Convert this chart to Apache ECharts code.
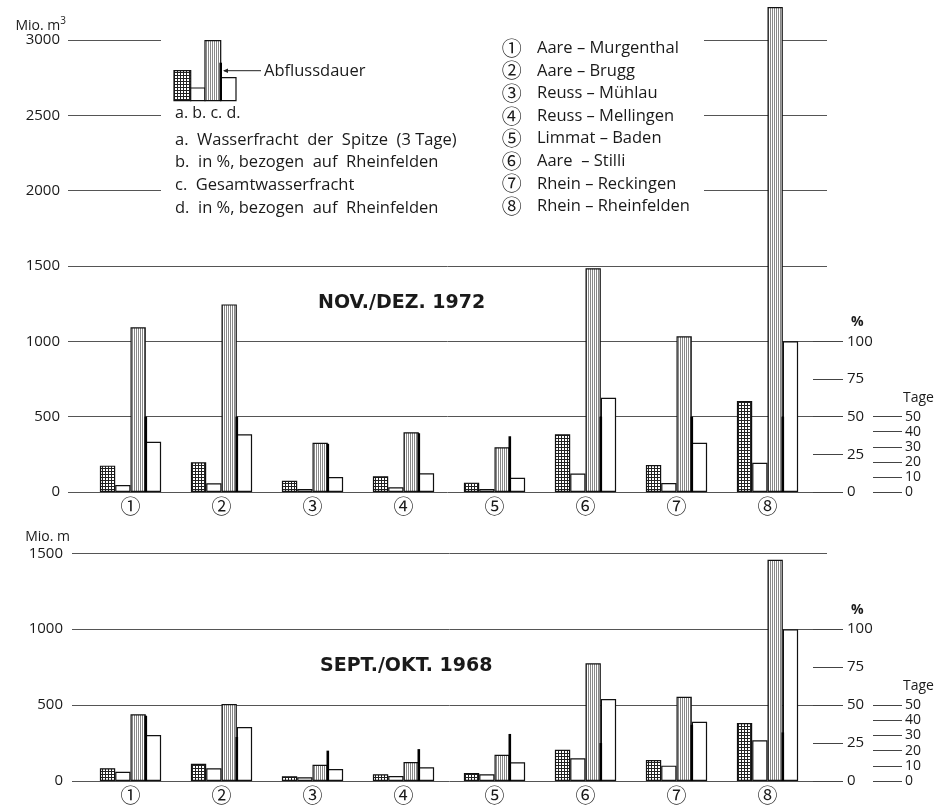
<!DOCTYPE html>
<html><head><meta charset="utf-8">
<script src="https://cdn.jsdelivr.net/npm/echarts@6/dist/echarts.min.js"></script>
<style>html,body{margin:0;padding:0;background:#fff}#c{width:940px;height:809px}</style>
</head><body><div id="c"></div>
<script>
// ---------- data ----------
const categories = ['①','②','③','④','⑤','⑥','⑦','⑧'];
const stations = ['Aare – Murgenthal','Aare – Brugg','Reuss – Mühlau','Reuss – Mellingen','Limmat – Baden','Aare  – Stilli','Rhein – Reckingen','Rhein – Rheinfelden'];
const legendLines = ['a.  Wasserfracht  der  Spitze  (3 Tage)','b.  in %, bezogen  auf  Rheinfelden','c.  Gesamtwasserfracht','d.  in %, bezogen  auf  Rheinfelden'];

// NOV./DEZ. 1972
const peak1972     = [175, 197, 75, 104, 62, 383, 179, 604];      // a: Mio m3
const peakPct1972  = [4.6, 5.8, 2.0, 3.1, 2.0, 12.2, 6.0, 19.4];  // b: %
const total1972    = [1093, 1245, 327, 396, 297, 1485, 1033, 3219]; // c: Mio m3
const totalPct1972 = [33.4, 38.3, 10.0, 12.4, 9.5, 62.6, 32.7, 100]; // d: %
const days1972     = [50, 50, 32, 39, 37, 50, 50, 50];             // Abflussdauer (Tage)

// SEPT./OKT. 1968
const peak1968     = [84, 114, 31, 44, 53, 206, 138, 382];
const peakPct1968  = [6.1, 8.4, 2.4, 3.3, 4.4, 15.0, 10.1, 26.8];
const total1968    = [439, 507, 107, 125, 173, 775, 555, 1458];
const totalPct1968 = [30.3, 35.6, 7.9, 9.0, 12.3, 54.0, 39.0, 100];
const days1968     = [43, 29, 20, 21, 31, 25, 37, 32];

const mioTicksTop = [0, 3000, 500];
const mioTicksBottom = [0, 1500, 500];
const pctTicks = [0, 100, 25];
const dayTicks = [0, 50, 10];

// ---------- style ----------
const FONT = "'Open Sans', 'DejaVu Sans', sans-serif";
const TFONT = "'DejaVu Sans', 'Open Sans', sans-serif";
const CIRC = "'Noto Sans CJK JP', 'DejaVu Sans', sans-serif";
const INK = '#1a1a1a';
const BAR_W = 15.3;
const plain = v => String(v);

function makePattern(kind) {
  const c = document.createElement('canvas');
  if (kind === 'grid') {
    c.width = 3; c.height = 3;
    const x = c.getContext('2d');
    x.fillStyle = '#fff'; x.fillRect(0, 0, 3, 3);
    x.fillStyle = '#222'; x.fillRect(0, 0, 3, 1); x.fillRect(0, 0, 1, 3);
  } else {
    c.width = 2; c.height = 2;
    const x = c.getContext('2d');
    x.fillStyle = '#fff'; x.fillRect(0, 0, 2, 2);
    x.fillStyle = '#888'; x.fillRect(0, 0, 1, 2);
  }
  return { image: c, repeat: 'repeat' };
}
const patA = makePattern('grid');
const patC = makePattern('stripes');

const grid = [], xAxis = [], yAxis = [], series = [];

function addPanel(p) {
  const g = grid.length, xi = xAxis.length, yi = yAxis.length;
  const pxPer = p.pxPer;
  const frameH = p.ticks[1] * pxPer;
  const dataH = p.dataMax * pxPer;
  grid.push({ left: p.left, top: p.base - frameH, width: 827 - p.left, height: frameH });
  grid.push({ left: 85, top: p.base - dataH, width: 728, height: dataH });
  grid.push({ left: p.left, top: p.base - 1000 * pxPer, width: 843 - p.left, height: 1000 * pxPer });
  grid.push({ left: p.left, top: p.base - 500 * pxPer, width: 902 - p.left, height: 500 * pxPer });

  xAxis.push({ gridIndex: g, type: 'value', show: false });
  xAxis.push({ gridIndex: g + 1, type: 'category', data: categories,
    axisLine: { show: false, onZero: false }, axisTick: { show: false },
    axisLabel: { fontFamily: CIRC, fontSize: 20, color: INK, margin: 4 } });
  xAxis.push({ gridIndex: g + 2, type: 'value', show: false });
  xAxis.push({ gridIndex: g + 3, type: 'value', show: false });

  yAxis.push({ gridIndex: g, type: 'value', min: p.ticks[0], max: p.ticks[1], interval: p.ticks[2],
    axisLine: { show: false, onZero: false }, axisTick: { show: false },
    axisLabel: { fontFamily: FONT, fontSize: 15, color: INK, margin: p.labelMargin, formatter: plain },
    splitLine: { show: true, lineStyle: { color: '#555', width: 1 } },
    name: p.unit, nameLocation: 'end', nameGap: p.unitGap,
    nameTextStyle: { fontFamily: FONT, fontSize: 14, color: INK, align: 'right', verticalAlign: 'middle', padding: [0, 2, 0, 0],
      rich: { s: { fontFamily: FONT, fontSize: 10, color: INK, padding: [0, 0, 8, 0] } } } });
  yAxis.push({ gridIndex: g + 1, type: 'value', min: 0, max: p.dataMax, show: false });
  yAxis.push({ gridIndex: g + 1, type: 'value', min: 0, max: p.dataMax / 10, show: false });
  yAxis.push({ gridIndex: g + 1, type: 'value', min: 0, max: p.dataMax / 10, show: false });
  yAxis.push({ gridIndex: g + 2, type: 'value', position: 'right', min: pctTicks[0], max: pctTicks[1], interval: pctTicks[2],
    axisLine: { show: false, onZero: false }, splitLine: { show: false },
    axisTick: { show: true, inside: true, length: 30, lineStyle: { color: '#444', width: 1 } },
    axisLabel: { fontFamily: FONT, fontSize: 15, color: INK, margin: 4, formatter: plain },
    name: '%', nameLocation: 'end', nameGap: 19,
    nameTextStyle: { fontFamily: FONT, fontSize: 14, fontWeight: 'bold', color: INK, align: 'left', verticalAlign: 'middle', padding: [0, 0, 0, 8] } });
  yAxis.push({ gridIndex: g + 3, type: 'value', position: 'right', min: dayTicks[0], max: dayTicks[1], interval: dayTicks[2],
    axisLine: { show: false, onZero: false }, splitLine: { show: false },
    axisTick: { show: true, inside: true, length: 29, lineStyle: { color: '#444', width: 1 } },
    axisLabel: { fontFamily: FONT, fontSize: 14, lineHeight: 14, color: INK, margin: 3, formatter: plain },
    name: 'Tage', nameLocation: 'end', nameGap: 19,
    nameTextStyle: { fontFamily: FONT, fontSize: 14, color: INK, align: 'left', verticalAlign: 'middle', padding: [0, 0, 0, 1] } });

  const barBase = { type: 'bar', xAxisIndex: xi + 1, barWidth: BAR_W, barGap: '0%', clip: false, z: 2, silent: true };
  const border = { borderColor: '#111', borderWidth: 1.2 };
  series.push(Object.assign({}, barBase, { name: 'a', yAxisIndex: yi + 1, data: p.a, itemStyle: Object.assign({ color: patA }, border) }));
  series.push(Object.assign({}, barBase, { name: 'b', yAxisIndex: yi + 2, data: p.b, itemStyle: Object.assign({ color: '#fff' }, border) }));
  series.push(Object.assign({}, barBase, { name: 'c', yAxisIndex: yi + 1, data: p.c, itemStyle: Object.assign({ color: patC }, border) }));
  series.push(Object.assign({}, barBase, { name: 'd', yAxisIndex: yi + 2, data: p.d, itemStyle: Object.assign({ color: '#fff' }, border) }));
  series.push({
    type: 'custom', name: 'Abflussdauer', xAxisIndex: xi + 1, yAxisIndex: yi + 3, z: 4, silent: true,
    encode: { x: 0, y: 1 },
    data: p.days.map((v, i) => [i, v]),
    renderItem: function (params, api) {
      const b = api.coord([api.value(0), 0]);
      const t = api.coord([api.value(0), api.value(1)]);
      const x = b[0] + BAR_W;
      return { type: 'line', shape: { x1: x, y1: b[1], x2: x, y2: t[1] },
        style: { stroke: '#000', lineWidth: 2.6 } };
    }
  });
}

addPanel({ base: 492, pxPer: 452 / 3000, ticks: mioTicksTop, dataMax: 3250, left: 68, labelMargin: 8,
  unit: 'Mio. m{s|3}', unitGap: 13,
  a: peak1972, b: peakPct1972, c: total1972, d: totalPct1972, days: days1972 });
addPanel({ base: 781, pxPer: 227.7 / 1500, ticks: mioTicksBottom, dataMax: 1500, left: 72, labelMargin: 9,
  unit: 'Mio. m', unitGap: 16,
  a: peak1968, b: peakPct1968, c: total1968, d: totalPct1968, days: days1968 });

// ---------- graphics (legend key, titles) ----------
function txt(x, y, text, size, opts) {
  opts = opts || {};
  return { type: 'text', x: x, y: y, z: 10, silent: true,
    style: { text: text, fill: INK, font: (opts.weight || 'normal') + ' ' + size + 'px ' + (opts.family || FONT),
      align: opts.align || 'left', textAlign: opts.align || 'left', verticalAlign: 'middle', textVerticalAlign: 'middle' } };
}
const graphics = [];
graphics.push({ type: 'rect', z: 1, silent: true, shape: { x: 161, y: 28, width: 543, height: 172 }, style: { fill: '#fff' } });
const border = { stroke: '#111', lineWidth: 1.2 };
graphics.push({ type: 'rect', z: 5, shape: { x: 174, y: 70.7, width: 16.7, height: 30 }, style: Object.assign({ fill: patA }, border) });
graphics.push({ type: 'rect', z: 5, shape: { x: 190.7, y: 88, width: 14.3, height: 12.7 }, style: Object.assign({ fill: '#fff' }, border) });
graphics.push({ type: 'rect', z: 5, shape: { x: 205, y: 40.7, width: 15.7, height: 60 }, style: Object.assign({ fill: patC }, border) });
graphics.push({ type: 'rect', z: 5, shape: { x: 220.7, y: 77.7, width: 15.3, height: 23 }, style: Object.assign({ fill: '#fff' }, border) });
graphics.push({ type: 'line', z: 6, shape: { x1: 220.7, y1: 62.7, x2: 220.7, y2: 100.7 }, style: { stroke: '#000', lineWidth: 2.6 } });
graphics.push({ type: 'line', z: 6, shape: { x1: 224, y1: 70.7, x2: 261, y2: 70.7 }, style: { stroke: '#222', lineWidth: 1 } });
graphics.push({ type: 'polygon', z: 6, shape: { points: [[223, 70.7], [228, 68.5], [228, 72.9]] }, style: { fill: '#222' } });
graphics.push(txt(264, 71, 'Abflussdauer', 16.5));
graphics.push(txt(175, 113, 'a. b. c. d.', 16));
legendLines.forEach((t, i) => graphics.push(txt(175, 140 + i * 22.7, t, 16.5)));
stations.forEach((s, i) => {
  graphics.push(txt(511.7, 48.3 + i * 22.6, categories[i], 20, { family: CIRC, align: 'center' }));
  graphics.push(txt(537, 48.3 + i * 22.6, s, 16.5));
});
graphics.push(txt(318, 303, 'NOV./DEZ. 1972', 19, { weight: 'bold', family: TFONT }));
graphics.push(txt(320, 666, 'SEPT./OKT. 1968', 19, { weight: 'bold', family: TFONT }));

const chart = echarts.init(document.getElementById('c'));
chart.setOption({
  backgroundColor: '#fff',
  animation: false,
  grid: grid, xAxis: xAxis, yAxis: yAxis, series: series,
  graphic: { elements: graphics }
});
</script>
</body></html>
